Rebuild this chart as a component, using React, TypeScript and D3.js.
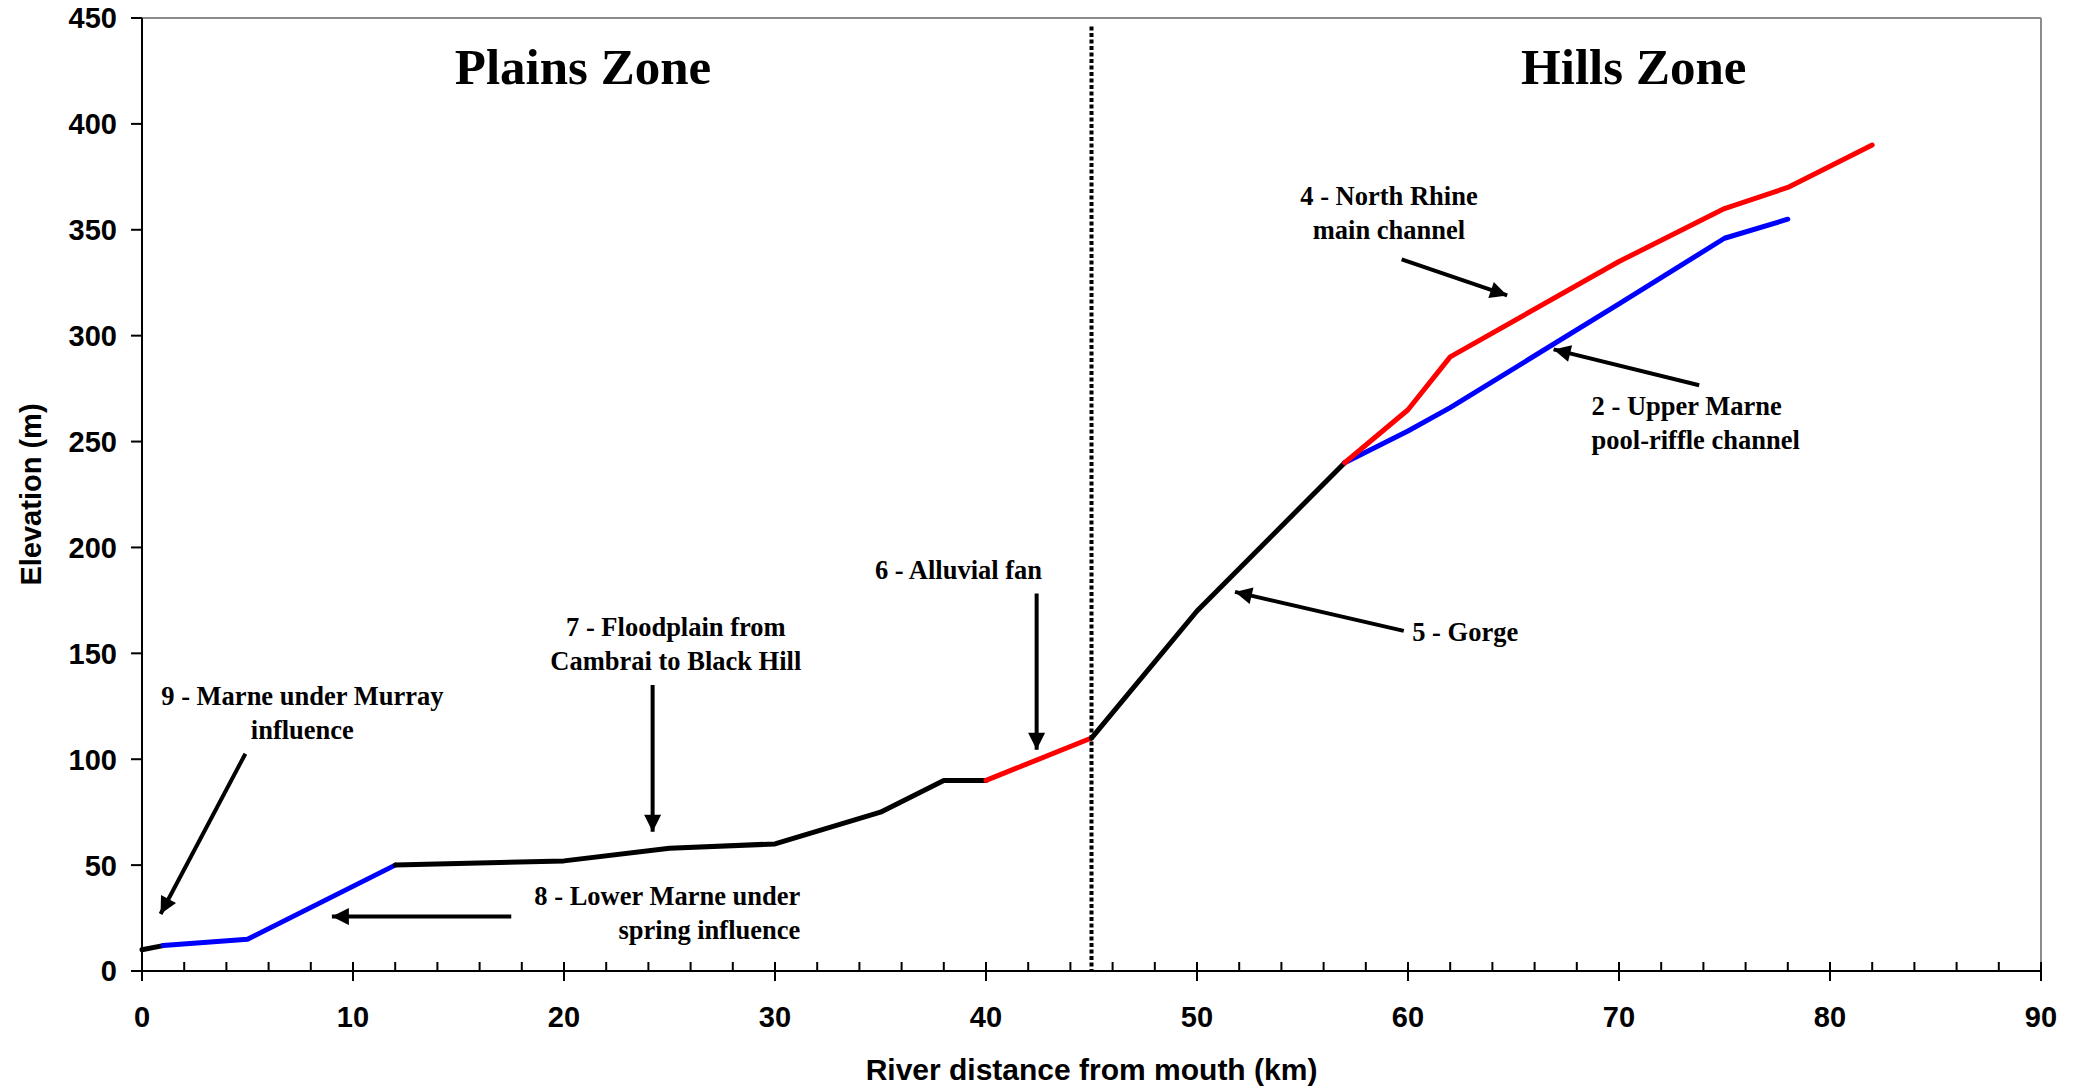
import React from "react";
import * as d3 from "d3";

// river profile segments (km from mouth, elevation m)
const mouthKm = [0, 1];
const mouthElev = [10, 12];
const lowerMarneKm = [1, 5, 12];
const lowerMarneElev = [12, 15, 50];
const floodplainKm = [12, 20, 25, 30, 35, 38, 40];
const floodplainElev = [50, 52, 58, 60, 75, 90, 90];
const fanKm = [40, 45];
const fanElev = [90, 110];
const gorgeKm = [45, 50, 57];
const gorgeElev = [110, 170, 240];
const northRhineKm = [57, 60, 62, 70, 75, 78, 82];
const northRhineElev = [240, 265, 290, 335, 360, 370, 390];
const upperMarneKm = [57, 60, 62, 70, 75, 78];
const upperMarneElev = [240, 255, 266, 315, 346, 355];

const yTicks = [0, 50, 100, 150, 200, 250, 300, 350, 400, 450];
const xTicks = [0, 10, 20, 30, 40, 50, 60, 70, 80, 90];
const xMinorTicks = d3.range(0, 91, 2);

const zoneBoundary = 45;
const zones = [
  { label: "Plains Zone", km: 20.9, elev: 419 },
  { label: "Hills Zone", km: 70.7, elev: 419 },
];

// annotations: text lines, anchor, position (km, m), arrow from -> to
const notes = [
  { lines: ["9 - Marne under Murray", "influence"], anchor: "middle", km: 7.6, elev: 130, from: [4.9, 102.6], to: [0.88, 26.9] },
  { lines: ["8 - Lower Marne under", "spring influence"], anchor: "end", km: 31.2, elev: 35.7, from: [17.5, 25.7], to: [9.0, 25.7] },
  { lines: ["7 - Floodplain from", "Cambrai to Black Hill"], anchor: "middle", km: 25.3, elev: 162.7, from: [24.2, 135], to: [24.2, 65.7] },
  { lines: ["6 - Alluvial fan"], anchor: "middle", km: 38.7, elev: 189.6, from: [42.4, 178.3], to: [42.4, 104.5] },
  { lines: ["5 - Gorge"], anchor: "start", km: 60.2, elev: 160.2, from: [59.8, 160.6], to: [51.8, 179] },
  { lines: ["4 - North Rhine", "main channel"], anchor: "middle", km: 59.1, elev: 366, from: [59.7, 336], to: [64.7, 319] },
  { lines: ["2 - Upper Marne", "pool-riffle channel"], anchor: "start", km: 68.7, elev: 267, from: [73.8, 276.6], to: [66.9, 293.5] },
];

const width = 2077;
const height = 1089;
const margin = { top: 18, right: 36, bottom: 118, left: 142 };

const x = d3.scaleLinear().domain([0, 90]).range([margin.left, width - margin.right]);
const y = d3.scaleLinear().domain([0, 450]).range([height - margin.bottom, margin.top]);

const line = d3
  .line<[number, number]>()
  .x((d) => x(d[0]))
  .y((d) => y(d[1]));

const seg = (km: number[], elev: number[]) => line(km.map((k, i) => [k, elev[i]]) as [number, number][]);

const series = [
  { d: seg(mouthKm, mouthElev), color: "#000000" },
  { d: seg(lowerMarneKm, lowerMarneElev), color: "#0000ff" },
  { d: seg(floodplainKm, floodplainElev), color: "#000000" },
  { d: seg(fanKm, fanElev), color: "#ff0000" },
  { d: seg(gorgeKm, gorgeElev), color: "#000000" },
  { d: seg(upperMarneKm, upperMarneElev), color: "#0000ff" },
  { d: seg(northRhineKm, northRhineElev), color: "#ff0000" },
];

const sans = "'Liberation Sans', Arial, sans-serif";
const serif = "'Liberation Serif', 'Times New Roman', serif";

export default function App() {
  const x0 = x(0);
  const y0 = y(0);
  return (
    <svg width={width} height={height} style={{ position: "absolute", left: 0, top: 0, background: "#fff" }}>
      <defs>
        <marker id="arrow" viewBox="0 0 10 10" refX="10" refY="5" markerWidth="21" markerHeight="17" markerUnits="userSpaceOnUse" orient="auto">
          <path d="M0,0 L10,5 L0,10 z" fill="#000" />
        </marker>
      </defs>

      {/* frame top / right */}
      <line x1={x0} x2={x(90)} y1={y(450)} y2={y(450)} stroke="#8c8c8c" strokeWidth={2} />
      <line x1={x(90)} x2={x(90)} y1={y(450)} y2={y0} stroke="#8c8c8c" strokeWidth={2} />

      {/* y axis */}
      <line x1={x0} x2={x0} y1={y(450)} y2={y0 + 10} stroke="#000" strokeWidth={2} />
      {yTicks.map((t) => (
        <g key={"y" + t}>
          <line x1={x0 - 11} x2={x0} y1={y(t)} y2={y(t)} stroke="#000" strokeWidth={2} />
          <text x={x0 - 25} y={y(t)} dy="0.36em" textAnchor="end" fontFamily={sans} fontWeight="bold" fontSize={29}>
            {t}
          </text>
        </g>
      ))}

      {/* x axis */}
      <line x1={x0 - 11} x2={x(90)} y1={y0} y2={y0} stroke="#000" strokeWidth={2} />
      {xMinorTicks.map((t) => (
        <line key={"m" + t} x1={x(t)} x2={x(t)} y1={y0 - 9} y2={y0} stroke="#000" strokeWidth={2} />
      ))}
      {xTicks.map((t) => (
        <g key={"x" + t}>
          <line x1={x(t)} x2={x(t)} y1={y0 - 9} y2={y0 + 10} stroke="#000" strokeWidth={2} />
          <text x={x(t)} y={y0 + 56} textAnchor="middle" fontFamily={sans} fontWeight="bold" fontSize={29}>
            {t}
          </text>
        </g>
      ))}

      <text x={(x0 + x(90)) / 2} y={1080} textAnchor="middle" fontFamily={sans} fontWeight="bold" fontSize={30}>
        River distance from mouth (km)
      </text>
      <text transform={`translate(41,${(y(450) + y0) / 2}) rotate(-90)`} textAnchor="middle" fontFamily={sans} fontWeight="bold" fontSize={29}>
        Elevation (m)
      </text>

      {/* zone divider */}
      <line x1={x(zoneBoundary)} x2={x(zoneBoundary)} y1={y(446)} y2={y0} stroke="#000" strokeWidth={4} strokeDasharray="4,2.5" />
      {zones.map((z) => (
        <text key={z.label} x={x(z.km)} y={y(z.elev)} textAnchor="middle" fontFamily={serif} fontWeight="bold" fontSize={51}>
          {z.label}
        </text>
      ))}

      {/* profile */}
      {series.map((s, i) => (
        <path key={i} d={s.d || ""} fill="none" stroke={s.color} strokeWidth={5} strokeLinejoin="round" strokeLinecap="round" />
      ))}

      {/* annotations */}
      {notes.map((n, i) => (
        <g key={"n" + i}>
          <line
            x1={x(n.from[0])}
            y1={y(n.from[1])}
            x2={x(n.to[0])}
            y2={y(n.to[1])}
            stroke="#000"
            strokeWidth={4}
            markerEnd="url(#arrow)"
          />
          <text textAnchor={n.anchor} fontFamily={serif} fontWeight="bold" fontSize={26.5}>
            {n.lines.map((l, j) => (
              <tspan key={j} x={x(n.km)} y={y(n.elev) + j * 34} dy="0.35em">
                {l}
              </tspan>
            ))}
          </text>
        </g>
      ))}
    </svg>
  );
}
